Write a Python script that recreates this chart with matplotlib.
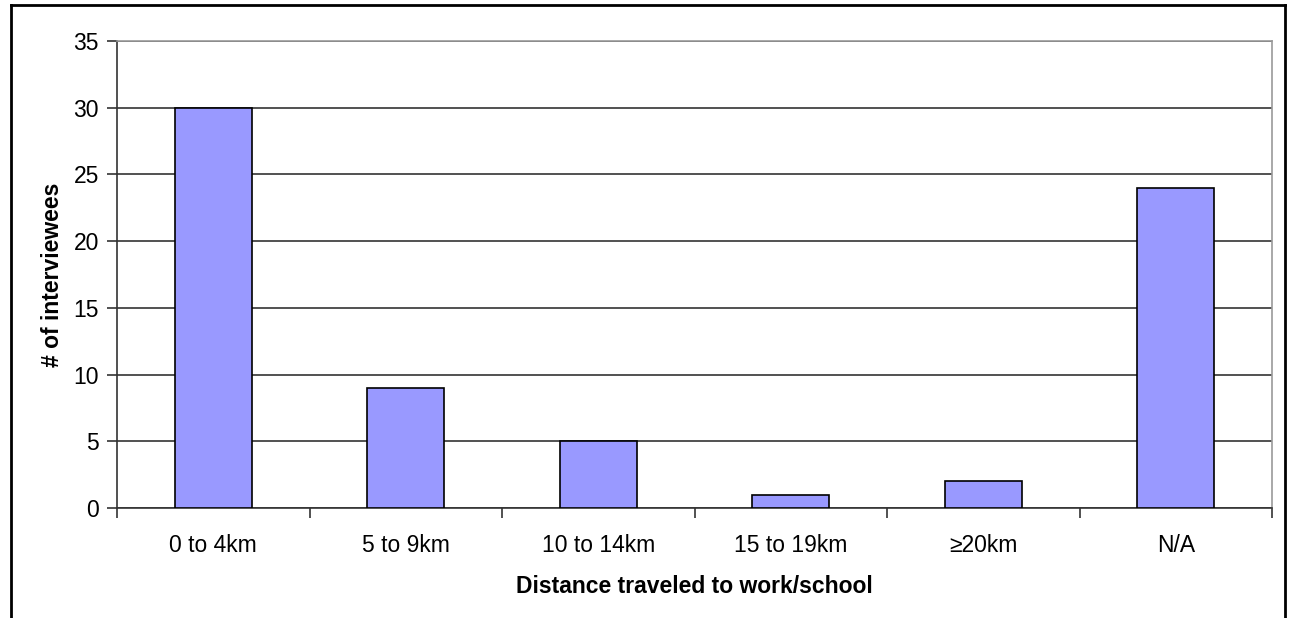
import matplotlib.pyplot as plt
from matplotlib.lines import Line2D

categories = ['0 to 4km', '5 to 9km', '10 to 14km', '15 to 19km', '\u226520km', 'N/A']
counts = [30, 9, 5, 1, 2, 24]

plt.rcParams['font.family'] = ['Liberation Sans', 'DejaVu Sans']

fig = plt.figure(figsize=(12.89, 6.18), dpi=100)
ax = fig.add_axes([117 / 1289, 1 - 508 / 618, (1272 - 117) / 1289, (508 - 41) / 618])

x = list(range(len(categories)))
ax.bar(x, counts, width=0.4, color='#9999ff', edgecolor='black', linewidth=1.2, zorder=3)

ax.set_xlim(-0.5, len(categories) - 0.5)
ax.set_ylim(0, 35)
ax.set_yticks(range(0, 36, 5))
ax.yaxis.grid(True, color='#333333', linewidth=1.2, zorder=0)

ax.set_xticks(x)
ax.set_xticklabels(categories, fontsize=16.5)
ax.set_xticks([i + 0.5 for i in range(-1, len(categories))], minor=True)
ax.tick_params(axis='x', which='major', length=0, pad=19)
ax.tick_params(axis='x', which='minor', length=7, width=1.2, color='#333333', direction='out')
ax.tick_params(axis='y', length=7, width=1.2, color='#333333', labelsize=16.5, pad=6)

for side in ['left', 'bottom']:
    ax.spines[side].set_color('#333333')
    ax.spines[side].set_linewidth(1.2)
for side in ['top', 'right']:
    ax.spines[side].set_color('#999999')
    ax.spines[side].set_linewidth(1.2)

ax.set_xlabel('Distance traveled to work/school', fontsize=16.5, fontweight='bold', labelpad=13)
ax.set_ylabel('# of interviewees', fontsize=16.5, fontweight='bold', labelpad=7)

# outer chart border (bottom edge cut off in the original)
for xs, ys in [([11, 11], [618, 5]), ([11, 1285], [5, 5]), ([1285, 1285], [5, 618])]:
    fig.add_artist(Line2D([v / 1289 for v in xs], [1 - v / 618 for v in ys],
                          color='black', linewidth=2))

fig.savefig('out.png', dpi=100)
